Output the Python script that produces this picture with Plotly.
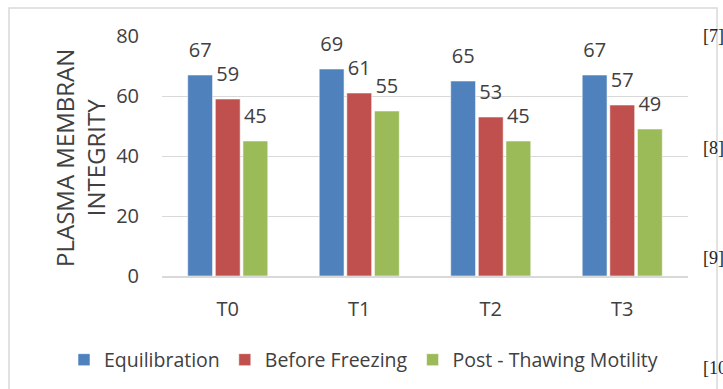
import plotly.graph_objects as go

categories = ["T0", "T1", "T2", "T3"]
equilibration = [67, 69, 65, 67]
before_freezing = [59, 61, 53, 57]
post_thawing = [45, 55, 45, 49]
series_names = ["Equilibration", "Before Freezing", "Post - Thawing Motility"]
colors = ["#4F81BD", "#C0504D", "#9BBB59"]
y_ticks = [0, 20, 40, 60, 80]
side_refs = ["[7]", "[8]", "[9]", "[10"]

W, H = 723, 389
L, R, T, B = 162, 35, 36, 113
pw, ph = W - L - R, H - T - B
LABEL_LIFT = 3  # extra gap (axis units) between bar top and its value label
TXT = "#404040"
FONT = "Open Sans"

def px_x(x):
    return (x - L) / pw

def px_y(y):
    return (H - B - y) / ph

fig = go.Figure()
for i, (name, vals, col) in enumerate(zip(series_names, [equilibration, before_freezing, post_thawing], colors)):
    fig.add_trace(go.Bar(
        x=categories, y=vals, name=name, offsetgroup=str(i),
        marker=dict(color=col, line=dict(color="rgba(255,255,255,0.55)", width=1)),
    ))
for i, vals in enumerate([equilibration, before_freezing, post_thawing]):
    fig.add_trace(go.Bar(
        x=categories, y=[LABEL_LIFT] * len(vals), base=vals, offsetgroup=str(i),
        marker=dict(color="rgba(0,0,0,0)", line=dict(width=0)),
        text=[str(v) for v in vals], textposition="outside",
        textfont=dict(family=FONT, size=20, color=TXT),
        cliponaxis=False, showlegend=False, hoverinfo="skip",
    ))

fig.update_layout(
    width=W, height=H,
    margin=dict(l=L, r=R, t=T, b=B, autoexpand=False),
    paper_bgcolor="white", plot_bgcolor="white",
    barmode="group", bargap=0.37, bargroupgap=0.1,
    font=dict(family=FONT, color=TXT),
    showlegend=True,
    legend=dict(orientation="h", x=px_x(64), xanchor="left", y=px_y(360), yanchor="middle",
                font=dict(family=FONT, size=19.5, color=TXT), traceorder="normal"),
    xaxis=dict(showgrid=False, showline=True, linecolor="#d9d9d9", linewidth=1.5,
               tickfont=dict(family=FONT, size=20, color=TXT), ticks="",
               ticklabelstandoff=14),
    yaxis=dict(range=[0, 80], tickvals=y_ticks, showgrid=True, gridcolor="#d9d9d9", gridwidth=1,
               zeroline=False, showline=False,
               tickfont=dict(family=FONT, size=20, color=TXT), ticks="",
               ticklabelstandoff=22),
)

fig.add_annotation(text="PLASMA MEMBRAN<br>INTEGRITY", xref="paper", yref="paper",
                   x=px_x(80), y=px_y(158), xanchor="center", yanchor="middle", textangle=-90,
                   showarrow=False, font=dict(family=FONT, size=24, color=TXT))

ref_y = [36, 148, 258, 368]
for txt, yy in zip(side_refs, ref_y):
    fig.add_annotation(text=txt, xref="paper", yref="paper", x=px_x(701), y=px_y(yy),
                       xanchor="left", yanchor="middle", showarrow=False,
                       font=dict(family="Liberation Serif", size=18, color="#222222"))

fig.add_shape(type="rect", xref="paper", yref="paper",
              x0=px_x(9), x1=px_x(717), y0=px_y(8), y1=px_y(400),
              line=dict(color="#d9d9d9", width=1.5), layer="below")

fig.write_html("out.html", config={"displayModeBar": False},
               post_script="document.body.style.margin='0';")
